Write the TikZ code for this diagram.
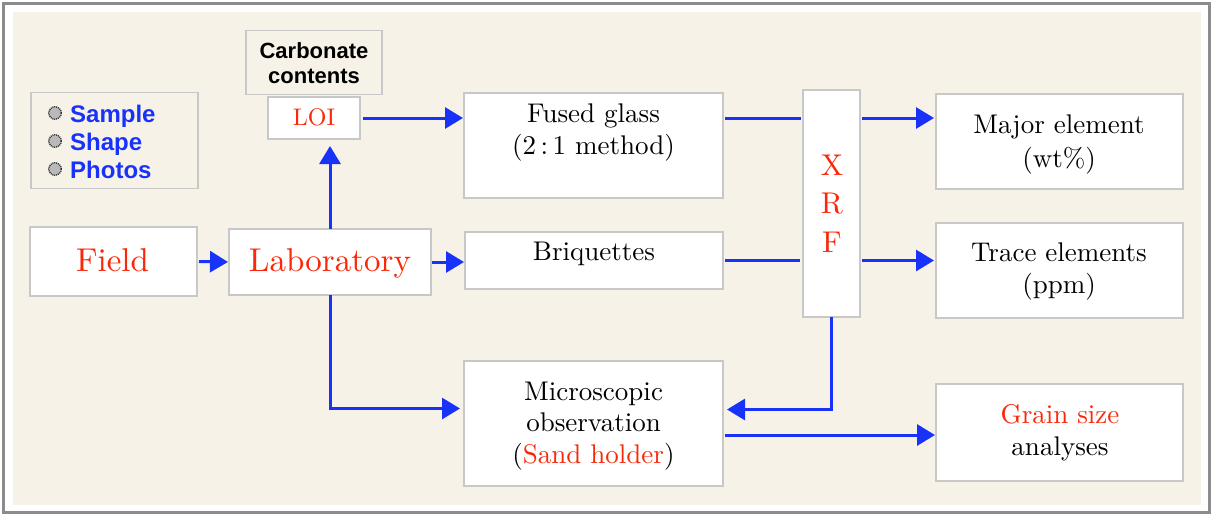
\documentclass[tikz,border=0pt]{standalone}
\usepackage{fontspec}
\setmainfont{lmroman10-regular.otf}[BoldFont=lmroman10-bold.otf, ItalicFont=lmroman10-italic.otf]
\newfontfamily\hv{Liberation Sans}
\usetikzlibrary{arrows.meta}
\definecolor{bg}{RGB}{247,242,232}
\definecolor{framecol}{RGB}{140,140,140}
\definecolor{boxline}{RGB}{200,200,200}
\definecolor{arblue}{RGB}{25,50,250}
\definecolor{txred}{RGB}{250,40,10}
\begin{document}
\begin{tikzpicture}[x=1pt,y=-1pt,
  box/.style={draw=boxline, line width=1.2pt, fill=white, inner sep=0pt, outer sep=0pt, rectangle},
  plainbox/.style={box, fill=bg},
  lbl/.style={anchor=base, align=center, inner sep=0pt},
  serifmid/.style={font=\fontsize{27}{32}\selectfont},
  sansbold/.style={font=\hv\bfseries\fontsize{22}{25}\selectfont},
  bulsym/.style={circle, fill=gray!55, draw=black!80, line width=1.4pt, dash pattern=on 1pt off 0.9pt, minimum size=12.5pt, inner sep=0pt},
  conn/.style={draw=arblue, line width=3pt, -{Triangle[length=18pt,width=21pt]}},
  link/.style={draw=arblue, line width=3pt},
]
\useasboundingbox (0,0) rectangle (1212,515);
\fill[white] (0,0) rectangle (1212,515);
\draw[framecol, line width=3pt] (3.5,3) rectangle (1209,512);
\fill[bg] (13,12) rectangle (1201,505);

% boxes
\node[plainbox, minimum width=167pt, minimum height=96pt] (bul) at (114.5,140.5) {};
\node[plainbox, minimum width=136pt, minimum height=64pt] (carb) at (314,62.5) {};
\node[box, minimum width=92pt, minimum height=42pt] (loi) at (314,118) {};
\node[box, minimum width=167pt, minimum height=69pt] (field) at (113.5,261.5) {};
\node[box, minimum width=202pt, minimum height=66pt] (lab) at (330,262) {};
\node[box, minimum width=259pt, minimum height=105pt] (fused) at (593.5,145.5) {};
\node[box, minimum width=258pt, minimum height=57pt] (briq) at (594,260.5) {};
\node[box, minimum width=57pt, minimum height=227pt] (xrf) at (831.5,203.5) {};
\node[box, minimum width=247pt, minimum height=95pt] (major) at (1059.5,141.5) {};
\node[box, minimum width=247pt, minimum height=95pt] (trace) at (1059.5,270.5) {};
\node[box, minimum width=259pt, minimum height=125pt] (micro) at (593.5,423.5) {};
\node[box, minimum width=247pt, minimum height=97pt] (grain) at (1059.5,432.5) {};

% bullet list
\node[bulsym] (s1) at (55,113) {};
\node[bulsym] (s2) at (55,141) {};
\node[bulsym] (s3) at (55,169) {};
\node[inner sep=0pt, anchor=base west, text=arblue, font=\hv\bfseries\fontsize{24}{28}\selectfont] (t1) at (70,122) {Sample};
\node[inner sep=0pt, anchor=base west, text=arblue, font=\hv\bfseries\fontsize{24}{28}\selectfont] (t2) at (70,150) {Shape};
\node[inner sep=0pt, anchor=base west, text=arblue, font=\hv\bfseries\fontsize{24}{28}\selectfont] (t3) at (70,178) {Photos};

% labels (anchor base = baseline of last line)
\node[lbl, sansbold] (tcarb) at (314,83) {Carbonate\\contents};
\node[lbl, text=txred, font=\fontsize{24}{28}\selectfont] (tloi) at (314,125) {LOI};
\node[lbl, text=txred, font=\fontsize{33}{38}\selectfont] (tfield) at (112.5,271.5) {Field};
\node[lbl, text=txred, font=\fontsize{33}{38}\selectfont] (tlab) at (330,271.5) {Laboratory};
\node[lbl, serifmid] (tfused) at (593.5,154) {Fused glass\\(2\,:\,1 method)};
\node[lbl, serifmid] (tbriq) at (594,260) {Briquettes};
\node[lbl, text=txred, font=\fontsize{30}{38.5}\selectfont] (txrf) at (832,252) {X\\R\\F};
\node[lbl, font=\fontsize{27}{34}\selectfont] (tmajor) at (1059,167) {Major element\\(wt\%)};
\node[lbl, serifmid] (ttrace) at (1059,293) {Trace elements\\(ppm)};
\node[lbl, font=\fontsize{27}{31.5}\selectfont] (tmicro) at (593.5,463) {Microscopic\\observation\\(\textcolor{txred}{Sand holder})};
\node[lbl, serifmid] (tgrain) at (1060,455) {\textcolor{txred}{Grain size}\\analyses};

% connectors
\draw[conn, shorten <=2pt, shorten >=1pt] (field.east) -- (lab.west);
\draw[conn, shorten >=7pt] (lab.north) -- (loi.south -| lab.north);
\draw[conn, shorten <=3pt, shorten >=1pt] (loi.east) -- (loi.east -| fused.west);
\draw[conn, shorten <=1pt, shorten >=1pt] (lab.east) -- (lab.east -| briq.west);
\draw[conn, shorten >=4pt] (lab.south) |- ([yshift=15pt]micro.west);
\draw[link, shorten <=2pt, shorten >=2pt] (fused.east |- loi.east) -- (xrf.west |- loi.east);
\draw[conn, shorten <=2pt, shorten >=2pt] (xrf.east |- loi.east) -- (major.west |- loi.east);
\draw[link, shorten <=2pt, shorten >=3pt] (briq.east) -- (briq.east -| xrf.west);
\draw[conn, shorten <=2pt, shorten >=2pt] (xrf.east |- briq.east) -- (trace.west |- briq.east);
\draw[conn, shorten >=4pt] (xrf.south) |- ([yshift=14pt]micro.east);
\draw[conn, shorten <=2pt, shorten >=1pt] ([yshift=-11.5pt]micro.east) -- ([yshift=-11.5pt]micro.east -| grain.west);
\end{tikzpicture}
\end{document}
